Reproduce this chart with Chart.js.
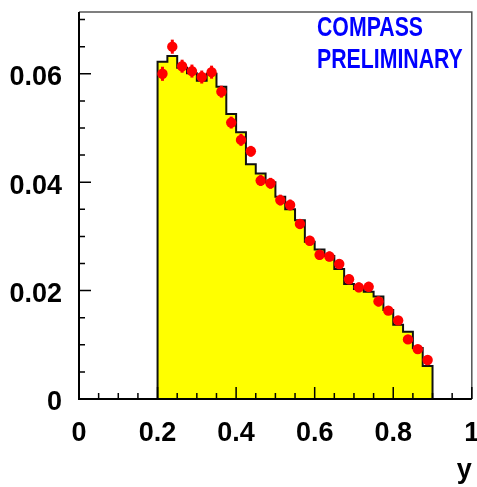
<!DOCTYPE html>
<html>
<head>
<meta charset="UTF-8" />
<title>COMPASS y distribution</title>
<script src="https://cdn.jsdelivr.net/npm/chart.js"></script>
<style>
  body { margin: 0; background: #fff; }
  #wrap { width: 477px; height: 487px; }
</style>
</head>
<body>
<div id="wrap"><canvas id="chart" width="477" height="487"></canvas></div>
<script>
// bins in y, 0.2 .. 0.9, width 0.025
const binLow = 0.2;
const binWidth = 0.025;
// Monte Carlo histogram (yellow)
const mcValues = [0.0622, 0.0633, 0.0611, 0.0601, 0.0587, 0.0600, 0.0576, 0.0526, 0.0492, 0.0433,
                  0.0416, 0.0400, 0.0373, 0.0350, 0.0330, 0.0290, 0.0276, 0.0264, 0.0240, 0.0212,
                  0.0203, 0.0198, 0.0189, 0.0164, 0.0137, 0.0124, 0.0094, 0.0061];
// data points (red)
const dataValues = [0.0600, 0.0650, 0.0614, 0.0605, 0.0594, 0.0603, 0.0567, 0.0510, 0.0478, 0.0457,
                    0.0403, 0.0398, 0.0367, 0.0358, 0.0323, 0.0292, 0.0266, 0.0263, 0.0249, 0.0221,
                    0.0206, 0.0207, 0.0180, 0.0163, 0.0145, 0.0110, 0.0092, 0.0072];
const dataErrors = [0.0013, 0.0013, 0.0012, 0.0012, 0.0012, 0.0012, 0.0011, 0.0011, 0.0011, 0.0010,
                    0.0010, 0.0010, 0.0010, 0.0010, 0.0009, 0.0009, 0.0009, 0.0009, 0.0009, 0.0009,
                    0.0009, 0.0009, 0.0009, 0.0008, 0.0008, 0.0008, 0.0008, 0.0008];
const xTicks = [0, 0.2, 0.4, 0.6, 0.8, 1];
const yTicks = [0, 0.02, 0.04, 0.06];

// narrow bold font if present, else Liberation Sans bold a bit smaller
function pickFont() {
  const c = document.createElement('canvas').getContext('2d');
  const w = f => { c.font = f; return c.measureText('0.06 PRELIMINARY').width; };
  const mono = w('bold 31px monospace');
  if (Math.abs(w("bold 31px 'Liberation Sans Narrow', monospace") - mono) > 0.5) {
    return { family: "'Liberation Sans Narrow'", size: 31, textSize: 26, squeeze: 1 };
  }
  return { family: "'Liberation Sans', Arial, sans-serif", size: 27, textSize: 28, squeeze: 0.76 };
}
const F = pickFont();

// step outline for the histogram
const histPts = [{x: binLow, y: 0}];
mcValues.forEach((v, i) => histPts.push({x: binLow + i * binWidth, y: v}));
histPts.push({x: binLow + mcValues.length * binWidth, y: mcValues[mcValues.length - 1]});
histPts.push({x: binLow + mcValues.length * binWidth, y: 0});

const pts = dataValues.map((v, i) => ({x: binLow + (i + 0.5) * binWidth, y: v}));

const rootAxes = {
  id: 'rootAxes',
  afterDatasetsDraw(chart) {
    const ctx = chart.ctx, a = chart.chartArea;
    const xs = chart.scales.x, ys = chart.scales.y;
    ctx.save();
    // error bars
    ctx.strokeStyle = '#ff0000';
    ctx.lineWidth = 3;
    dataValues.forEach((v, i) => {
      const px = xs.getPixelForValue(pts[i].x);
      ctx.beginPath();
      ctx.moveTo(px, ys.getPixelForValue(v - dataErrors[i]));
      ctx.lineTo(px, ys.getPixelForValue(v + dataErrors[i]));
      ctx.stroke();
    });
    // frame
    ctx.strokeStyle = '#555';
    ctx.lineWidth = 1.5;
    ctx.beginPath();
    ctx.moveTo(a.left, a.top); ctx.lineTo(a.right, a.top); ctx.lineTo(a.right, a.bottom);
    ctx.stroke();
    ctx.strokeStyle = '#000';
    ctx.lineWidth = 2;
    ctx.beginPath();
    ctx.moveTo(a.left, a.top); ctx.lineTo(a.left, a.bottom); ctx.lineTo(a.right, a.bottom);
    ctx.stroke();
    // inward ticks
    ctx.lineWidth = 1.5;
    ctx.beginPath();
    for (let k = 0; k <= 20; k++) {
      const px = xs.getPixelForValue(k * 0.05);
      const len = (k % 4 === 0) ? 12 : 6;
      ctx.moveTo(px, a.bottom); ctx.lineTo(px, a.bottom - len);
    }
    for (let k = 0; k * 0.005 <= ys.max; k++) {
      const py = ys.getPixelForValue(k * 0.005);
      const len = (k % 4 === 0) ? 12 : 6;
      ctx.moveTo(a.left, py); ctx.lineTo(a.left + len, py);
    }
    ctx.stroke();
    // label
    ctx.fillStyle = '#0000ff';
    ctx.font = 'bold ' + F.textSize + 'px ' + F.family;
    ctx.textBaseline = 'middle';
    ctx.textAlign = 'left';
    [['COMPASS', 28], ['PRELIMINARY', 60]].forEach(([t, y]) => {
      ctx.save();
      ctx.translate(317, y);
      ctx.scale(F.squeeze, 1);
      ctx.fillText(t, 0, 0);
      ctx.restore();
    });
    ctx.restore();
  }
};

const tickFont = { family: F.family, weight: 'bold', size: F.size };

new Chart(document.getElementById('chart'), {
  type: 'scatter',
  data: {
    datasets: [
      {
        type: 'line',
        data: histPts,
        stepped: 'before',
        fill: 'origin',
        backgroundColor: '#ffff00',
        borderColor: '#111',
        borderWidth: 2,
        pointRadius: 0,
        order: 2
      },
      {
        type: 'scatter',
        data: pts,
        pointRadius: 5.2,
        backgroundColor: '#ff0000',
        borderWidth: 0,
        order: 1
      }
    ]
  },
  options: {
    responsive: false,
    animation: false,
    devicePixelRatio: 1,
    layout: { padding: { top: 12, right: 5, left: 0, bottom: 0 } },
    plugins: { legend: { display: false }, tooltip: { enabled: false } },
    scales: {
      x: {
        type: 'linear', min: 0, max: 1,
        grid: { display: false, drawTicks: false },
        border: { display: false },
        afterBuildTicks: s => { s.ticks = xTicks.map(v => ({value: v})); },
        afterFit: s => { s.height = 88; s.paddingLeft = 0; s.paddingRight = 0; },
        ticks: {
          padding: 18, color: '#000', maxRotation: 0, autoSkip: false,
          font: tickFont,
          callback: v => (v === 0 || v === 1) ? String(v) : v.toFixed(1)
        },
        title: {
          display: true, text: 'y', align: 'end', color: '#000',
          padding: 0,
          font: tickFont
        }
      },
      y: {
        type: 'linear', min: 0, max: 0.0714,
        grid: { display: false, drawTicks: false },
        border: { display: false },
        afterBuildTicks: s => { s.ticks = yTicks.map(v => ({value: v})); },
        afterFit: s => { s.width = 79; s.paddingTop = 0; s.paddingBottom = 0; },
        ticks: {
          padding: 17, color: '#000', labelOffset: 4,
          font: tickFont,
          callback: v => v === 0 ? '0' : v.toFixed(2)
        }
      }
    }
  },
  plugins: [rootAxes]
});
</script>
</body>
</html>
